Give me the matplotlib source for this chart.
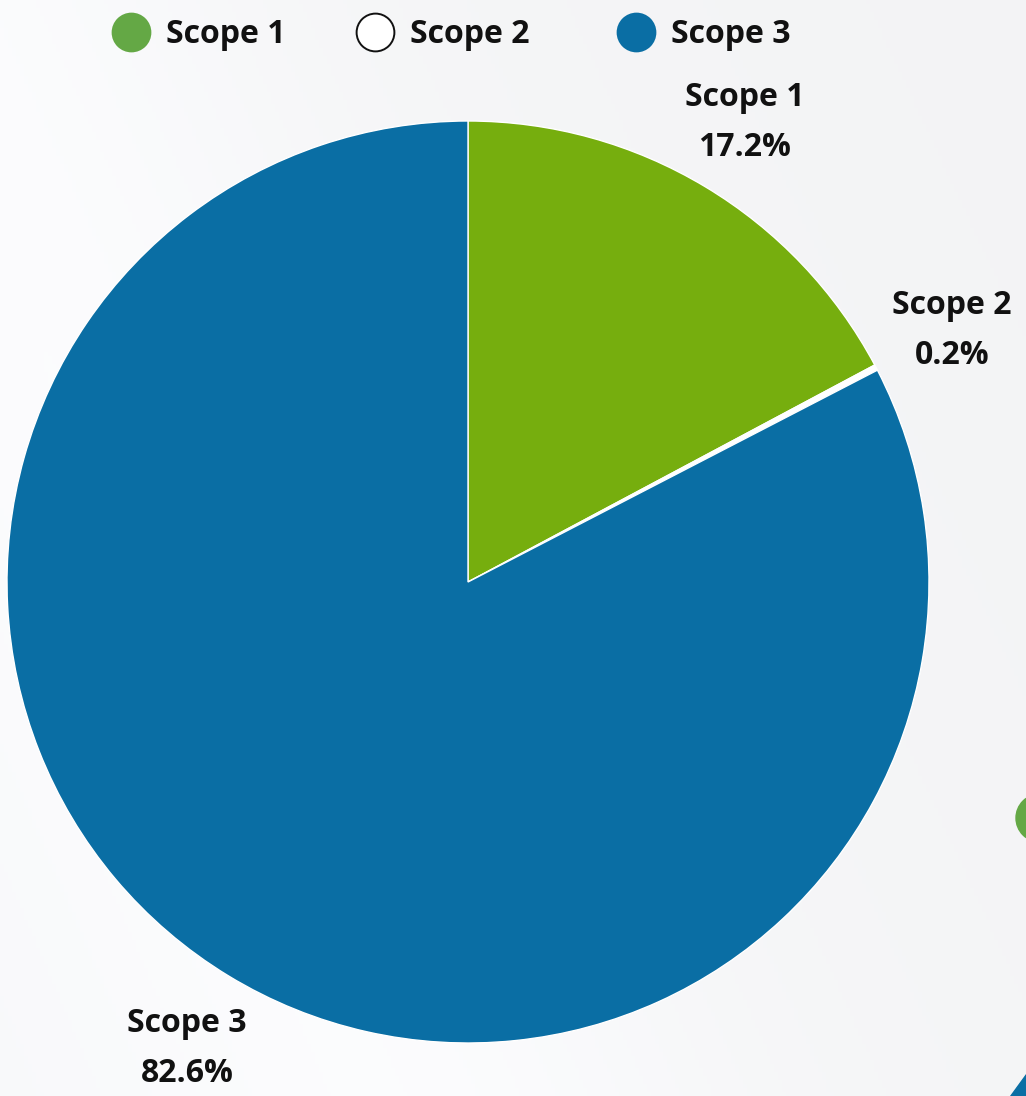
import numpy as np
import matplotlib
matplotlib.use("Agg")
import matplotlib.pyplot as plt
from matplotlib.patches import Circle, Polygon

plt.rcParams['font.family'] = ['Open Sans', 'DejaVu Sans']

# Emission shares by scope
categories = ["Scope 1", "Scope 2", "Scope 3"]
shares = [17.2, 0.2, 82.6]
share_labels = ["17.2%", "0.2%", "82.6%"]

slice_colors = ["#76ae0e", "#ffffff", "#0a6ea4"]
legend_colors = ["#64a845", "#ffffff", "#0a6ea4"]

W, H = 1026, 1096
fig = plt.figure(figsize=(W / 100, H / 100), dpi=100)
ax = fig.add_axes([0, 0, 1, 1])
ax.set_xlim(0, W)
ax.set_ylim(0, H)
ax.set_aspect('equal')
ax.axis('off')

# soft light-grey backdrop with a brighter sweep on the left
yy, xx = np.mgrid[0:H:4, 0:W:4]
base = 0.965 - 0.012 * (xx / W) + 0.006 * (yy / H)
sweep = np.exp(-((xx * 0.8 + (H - yy) * 0.35 - 320) / 260.0) ** 2) * 0.02
bg = np.clip(base + sweep, 0, 1)
rgb = np.dstack([bg, bg + 0.002, bg + 0.008])
ax.imshow(np.clip(rgb, 0, 1), extent=(0, W, 0, H), origin='upper', zorder=0)

# decorative shapes at the right edge
ax.add_patch(Circle((1040, H - 818), 24, color="#64a845", zorder=1))
ax.add_patch(Polygon([[1010, 0], [1026, 0], [1026, 22]], closed=True,
                     color="#0a6ea4", zorder=1))

cx, cy, r = 468, H - 582, 461
ax.pie(shares, colors=slice_colors, startangle=90, counterclock=False,
       center=(cx, cy), radius=r, frame=True,
       wedgeprops=dict(edgecolor="white", linewidth=1.0, zorder=2))
ax.set_xlim(0, W)
ax.set_ylim(0, H)
ax.axis('off')

text_kw = dict(fontsize=23, fontweight='bold', color='#111111',
               ha='center', va='baseline', zorder=5)
label_pos = [(745, 106), (952, 314), (187, 1032)]
for name, pct, (lx, ly) in zip(categories, share_labels, label_pos):
    ax.text(lx, H - ly, name, **text_kw)
    ax.text(lx, H - ly - 50, pct, **text_kw)

# legend row
marker_x = [131, 375, 636]
for name, col, mx in zip(categories, legend_colors, marker_x):
    ax.scatter([mx], [H - 32], s=740, color=col,
               edgecolor="#111111" if col == "#ffffff" else col,
               linewidth=1.4, zorder=5)
    ax.text(mx + 35, H - 43, name, fontsize=23, fontweight='bold',
            color='#111111', ha='left', va='baseline', zorder=5)

fig.savefig("out.png", dpi=100)
